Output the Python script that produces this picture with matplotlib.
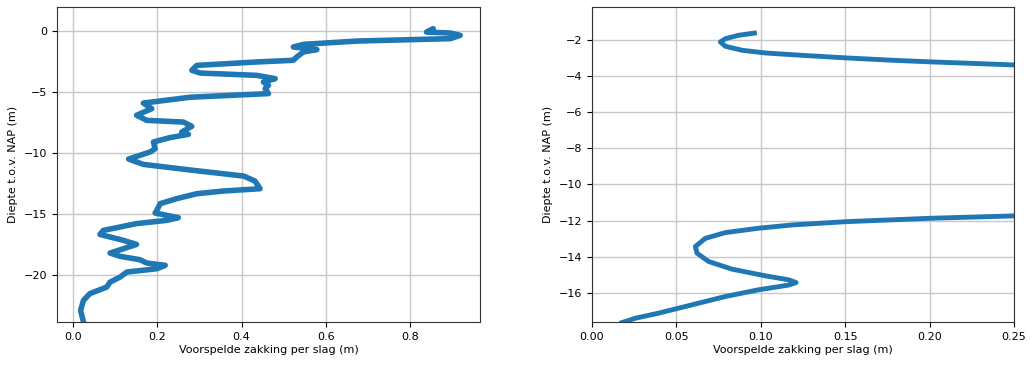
import matplotlib
matplotlib.use("Agg")
import matplotlib.pyplot as plt

# left: predicted set per blow vs depth (full profile)
zakking_links = [0.855, 0.839, 0.895, 0.919, 0.896, 0.674, 0.547, 0.523, 0.579, 0.547,
                 0.531, 0.523, 0.436, 0.294, 0.282, 0.302, 0.436, 0.480, 0.452, 0.464,
                 0.456, 0.464, 0.278, 0.167, 0.187, 0.151, 0.175, 0.262, 0.282, 0.258,
                 0.274, 0.230, 0.191, 0.195, 0.183, 0.132, 0.167, 0.278, 0.405, 0.432,
                 0.444, 0.357, 0.294, 0.246, 0.207, 0.199, 0.195, 0.250, 0.223, 0.151,
                 0.072, 0.064, 0.120, 0.151, 0.120, 0.088, 0.112, 0.159, 0.175, 0.219,
                 0.199, 0.128, 0.112, 0.088, 0.080, 0.040, 0.025, 0.018, 0.025]
diepte_links = [0.22, -0.06, -0.14, -0.33, -0.60, -0.80, -1.07, -1.29, -1.50, -1.70,
                -2.11, -2.38, -2.52, -2.80, -3.20, -3.43, -3.62, -3.89, -4.17, -4.44,
                -4.71, -5.12, -5.42, -5.90, -6.36, -6.90, -7.32, -7.46, -7.81, -8.28,
                -8.47, -8.74, -9.10, -9.65, -9.92, -10.50, -10.94, -11.40, -11.90, -12.31,
                -12.94, -13.13, -13.35, -13.76, -14.17, -14.72, -14.94, -15.32, -15.54, -15.81,
                -16.37, -16.70, -17.19, -17.52, -17.87, -18.23, -18.50, -18.78, -19.05, -19.24,
                -19.52, -19.79, -20.20, -20.62, -21.03, -21.57, -22.12, -22.94, -23.90]

# right: zoomed-in profile (middle part runs off the axis)
zakking_rechts = [0.0962, 0.0869, 0.0790, 0.0760, 0.0790, 0.0889, 0.1027, 0.1264, 0.150,
                  0.1777, 0.2004, 0.227, 0.2498, 0.30, 0.60, 1.00, 1.20, 0.90, 0.50, 0.30,
                  0.2498, 0.2004, 0.150, 0.1185, 0.0987, 0.0790, 0.0671, 0.0612, 0.0622,
                  0.0691, 0.0829, 0.1027, 0.1165, 0.1209, 0.1165, 0.0987, 0.0790, 0.0593,
                  0.0395, 0.0257, 0.0178]
diepte_rechts = [-1.64, -1.76, -1.95, -2.13, -2.37, -2.59, -2.74, -2.88, -3.01,
                 -3.14, -3.23, -3.32, -3.40, -3.50, -4.2, -6.0, -8.0, -10.0, -11.2, -11.65,
                 -11.74, -11.87, -12.06, -12.24, -12.42, -12.66, -12.98, -13.43, -13.80,
                 -14.26, -14.68, -15.05, -15.27, -15.42, -15.56, -15.82, -16.19, -16.65,
                 -17.11, -17.39, -17.63]

fig = plt.figure(figsize=(10.3, 3.65), dpi=100)
ax1 = fig.add_axes([0.0553, 0.1178, 0.4107, 0.863])
ax2 = fig.add_axes([0.5748, 0.1178, 0.4097, 0.863])

ax1.plot(zakking_links, diepte_links, color='#1f77b4', linewidth=4,
         solid_joinstyle='round', solid_capstyle='round')
ax1.set_xlim(-0.038, 0.966)
ax1.set_ylim(-23.9, 2.0)
ax1.set_xticks([0.0, 0.2, 0.4, 0.6, 0.8])
ax1.set_yticks([0, -5, -10, -15, -20])

ax2.plot(zakking_rechts, diepte_rechts, color='#1f77b4', linewidth=3.5,
         solid_joinstyle='round')
ax2.set_xlim(0, 0.25)
ax2.set_ylim(-17.6, -0.2)
ax2.set_xticks([0.0, 0.05, 0.10, 0.15, 0.20, 0.25])
ax2.set_yticks([-2, -4, -6, -8, -10, -12, -14, -16])

for ax in (ax1, ax2):
    ax.grid(True, color='#c8c8c8', linewidth=1)
    ax.set_axisbelow(True)
    ax.tick_params(labelsize=8)
    ax.set_xlabel('Voorspelde zakking per slag (m)', fontsize=8, labelpad=2)
    ax.set_ylabel('Diepte t.o.v. NAP (m)', fontsize=8)
    for s in ax.spines.values():
        s.set_color('#333333')

fig.savefig('out.png', dpi=100)
